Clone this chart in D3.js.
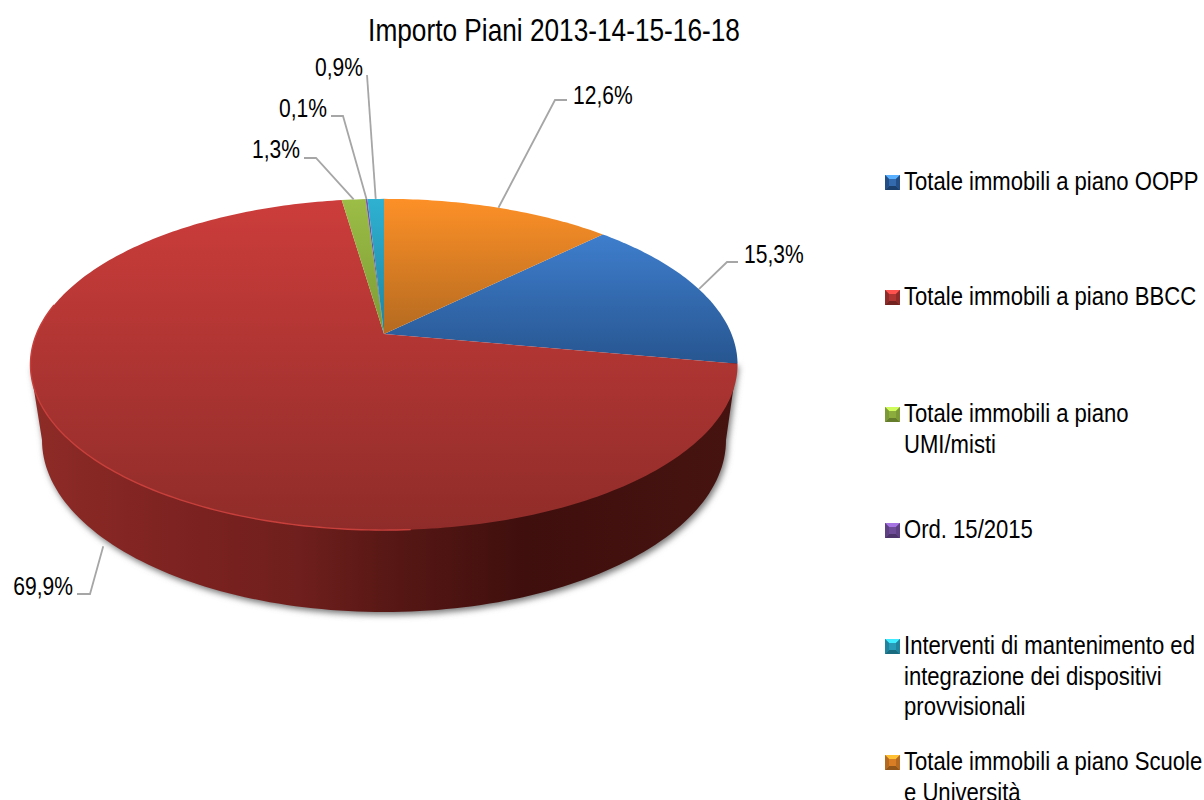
<!DOCTYPE html>
<html>
<head>
<meta charset="utf-8">
<script src="https://cdnjs.cloudflare.com/ajax/libs/d3/7.8.5/d3.min.js"></script>
<style>
  html, body { margin: 0; padding: 0; background: #fff; }
  text { font-family: "Liberation Sans", sans-serif; fill: #000; }
</style>
</head>
<body>
<div id="chart"></div>
<script>
var titleText = "Importo Piani 2013-14-15-16-18";
var categories = [
  ["Totale immobili a piano OOPP"],
  ["Totale immobili a piano BBCC"],
  ["Totale immobili a piano", "UMI/misti"],
  ["Ord. 15/2015"],
  ["Interventi di mantenimento ed", "integrazione dei dispositivi", "provvisionali"],
  ["Totale immobili a piano Scuole", "e Università"]
];
var percents = [15.3, 69.9, 1.3, 0.1, 0.9, 12.6];

// slice colours, top and bottom of the face
var colorsTop = ["#4284d6", "#cc3d3b", "#9cbd46", "#7d57ab", "#2fb1d2", "#fd9027"];
var colorsBottom = ["#234f86", "#8f2c29", "#7c9a35", "#5f4085", "#20849e", "#b46a20"];

// where labels sit: elbow of the leader, end of the leader, text anchor point
var labelLayout = [
  {elbow: [727, 262], end: [738, 262], text: [744, 263], anchor: "start"},
  {elbow: [90, 594], end: [77, 594], text: [73, 595], anchor: "end", onWall: true},
  {elbow: [316, 158], end: [304, 158], text: [300, 158], anchor: "end"},
  {elbow: [343, 116], end: [331, 116], text: [327, 117], anchor: "end"},
  {elbow: null, end: [367, 75], text: [363, 76], anchor: "end"},
  {elbow: [555, 100], end: [567, 100], text: [573, 104], anchor: "start"}
];
var legendY = [190, 305, 422, 538, 654, 770];

var width = 1204;
var height = 800;

// pie geometry: the apex is off the ellipse centre because the chart has perspective
var apexX = 384, apexY = 334;
var persp = 0.184, kx = 347.5, ky = 160;
var rimLeft = [30, 365], rimRight = [737, 363];
var baseCx = 384, baseCy = 440, baseRx = 342, baseRy = 172;
var wallDepth = 82;

// the original font is a narrow one, so squeeze the text sideways
var narrowTitle = 0.82, narrowLabel = 0.81, narrowLegend = 0.85;

function project(a) {
  var u = Math.sin(a), v = Math.cos(a), w = 1 + persp * v;
  return [apexX + kx * u / w, apexY - ky * v / w];
}

var svg = d3.select("#chart").append("svg")
  .attr("width", width)
  .attr("height", height)
  .style("display", "block");

var defs = svg.append("defs");

defs.append("filter").attr("id", "soft")
  .attr("x", "-10%").attr("y", "-10%").attr("width", "120%").attr("height", "120%")
  .append("feGaussianBlur").attr("stdDeviation", 3);

var wallGrad = defs.append("linearGradient").attr("id", "wallGrad")
  .attr("gradientUnits", "userSpaceOnUse")
  .attr("x1", 30).attr("x2", 737).attr("y1", 0).attr("y2", 0);
[[0, "#8e2b27"], [0.2, "#7e2321"], [0.38, "#6f1f1d"], [0.5, "#591815"], [0.7, "#3f0f0d"], [1, "#461310"]]
  .forEach(function(s) {
    wallGrad.append("stop").attr("offset", s[0]).attr("stop-color", s[1]);
  });

percents.forEach(function(p, i) {
  var g = defs.append("linearGradient").attr("id", "slice" + i)
    .attr("gradientUnits", "userSpaceOnUse")
    .attr("x1", 0).attr("x2", 0);
  if (i == 1) {
    g.attr("y1", 199).attr("y2", 530);
  } else if (i == 0) {
    g.attr("y1", 215).attr("y2", 385);
  } else {
    g.attr("y1", 199).attr("y2", 334);
  }
  g.append("stop").attr("offset", 0).attr("stop-color", colorsTop[i]);
  g.append("stop").attr("offset", 1).attr("stop-color", colorsBottom[i]);
});

/* Pie layout, orange slice ends at twelve o'clock */
var startAngle = 2 * Math.PI * percents[5] / d3.sum(percents);
var pie = d3.pie().sort(null)
  .startAngle(startAngle)
  .endAngle(startAngle + 2 * Math.PI);
var slices = pie(percents);

var line = d3.line();

function arcPoints(a0, a1) {
  var n = Math.max(2, Math.ceil((a1 - a0) * 60));
  return d3.range(n + 1).map(function(i) {
    return project(a0 + (a1 - a0) * i / n);
  });
}

function slicePath(d) {
  return line([[apexX, apexY]].concat(arcPoints(d.startAngle, d.endAngle))) + "Z";
}

/* Wall below the face */
var wallPts = [rimLeft].concat(d3.range(0, 121).map(function(i) {
  var t = Math.PI * i / 120;
  return [baseCx - baseRx * Math.cos(t), baseCy + baseRy * Math.sin(t)];
})).concat([rimRight]);

svg.append("path")
  .attr("d", line(wallPts) + "Z")
  .attr("transform", "translate(2,3)")
  .attr("fill", "#777")
  .attr("filter", "url(#soft)");

svg.append("path")
  .attr("d", line(wallPts) + "Z")
  .attr("fill", "url(#wallGrad)");

/* Top face */
svg.append("g").selectAll("path")
  .data(slices).enter()
  .append("path")
  .attr("d", slicePath)
  .attr("fill", function(d, i) { return "url(#slice" + i + ")"; });

// light edge on the front left of the face
svg.append("path")
  .attr("d", line(arcPoints(Math.PI * 0.98, Math.PI * 1.56)))
  .attr("fill", "none")
  .attr("stroke", "#c8403c")
  .attr("stroke-width", 1.4);

/* Title */
svg.append("text")
  .attr("transform", "translate(554,41) scale(" + narrowTitle + ",1)")
  .attr("text-anchor", "middle")
  .style("font-size", "32px")
  .text(titleText);

/* Data labels with leader lines */
var formatPct = function(v) { return d3.format(".1f")(v).replace(".", ",") + "%"; };

var labels = svg.append("g").selectAll("g")
  .data(slices).enter()
  .append("g");

labels.append("path")
  .attr("d", function(d, i) {
    var l = labelLayout[i];
    var p = project((d.startAngle + d.endAngle) / 2);
    if (l.onWall) p = [p[0] + 6, p[1] + wallDepth + 3];
    var pts = [p];
    if (l.elbow) pts.push(l.elbow);
    pts.push(l.end);
    return line(pts);
  })
  .attr("fill", "none")
  .attr("stroke", "#a6a6a6")
  .attr("stroke-width", 1.8);

labels.append("text")
  .attr("transform", function(d, i) {
    var t = labelLayout[i].text;
    return "translate(" + t[0] + "," + t[1] + ") scale(" + narrowLabel + ",1)";
  })
  .attr("text-anchor", function(d, i) { return labelLayout[i].anchor; })
  .style("font-size", "26px")
  .text(function(d, i) { return formatPct(percents[i]); });

/* Legend */
var legend = svg.append("g").selectAll("g")
  .data(categories).enter()
  .append("g")
  .attr("transform", function(d, i) { return "translate(885," + legendY[i] + ")"; });

var keySize = 15, bevel = 4;

legend.each(function(d, i) {
  var g = d3.select(this);
  var s = keySize, b = bevel;
  var y0 = -s;
  g.append("rect")
    .attr("y", y0).attr("width", s).attr("height", s)
    .attr("fill", d3.interpolateRgb(colorsTop[i], colorsBottom[i])(0.5));
  g.append("path") // top bevel
    .attr("d", line([[0, y0], [s, y0], [s - b, y0 + b], [b, y0 + b]]) + "Z")
    .attr("fill", d3.color(colorsTop[i]).brighter(0.8));
  g.append("path") // bottom bevel
    .attr("d", line([[0, y0 + s], [s, y0 + s], [s - b, y0 + s - b], [b, y0 + s - b]]) + "Z")
    .attr("fill", d3.color(colorsBottom[i]).darker(0.6));
  g.append("path") // side bevels
    .attr("d", line([[0, y0], [b, y0 + b], [b, y0 + s - b], [0, y0 + s]]) + "Z" +
      line([[s, y0], [s - b, y0 + b], [s - b, y0 + s - b], [s, y0 + s]]) + "Z")
    .attr("fill", colorsBottom[i]);

  g.selectAll("text")
    .data(d).enter()
    .append("text")
    .attr("transform", function(t, j) {
      return "translate(19," + (j * 30.5) + ") scale(" + narrowLegend + ",1)";
    })
    .style("font-size", "26px")
    .text(function(t) { return t; });
});
</script>
</body>
</html>
